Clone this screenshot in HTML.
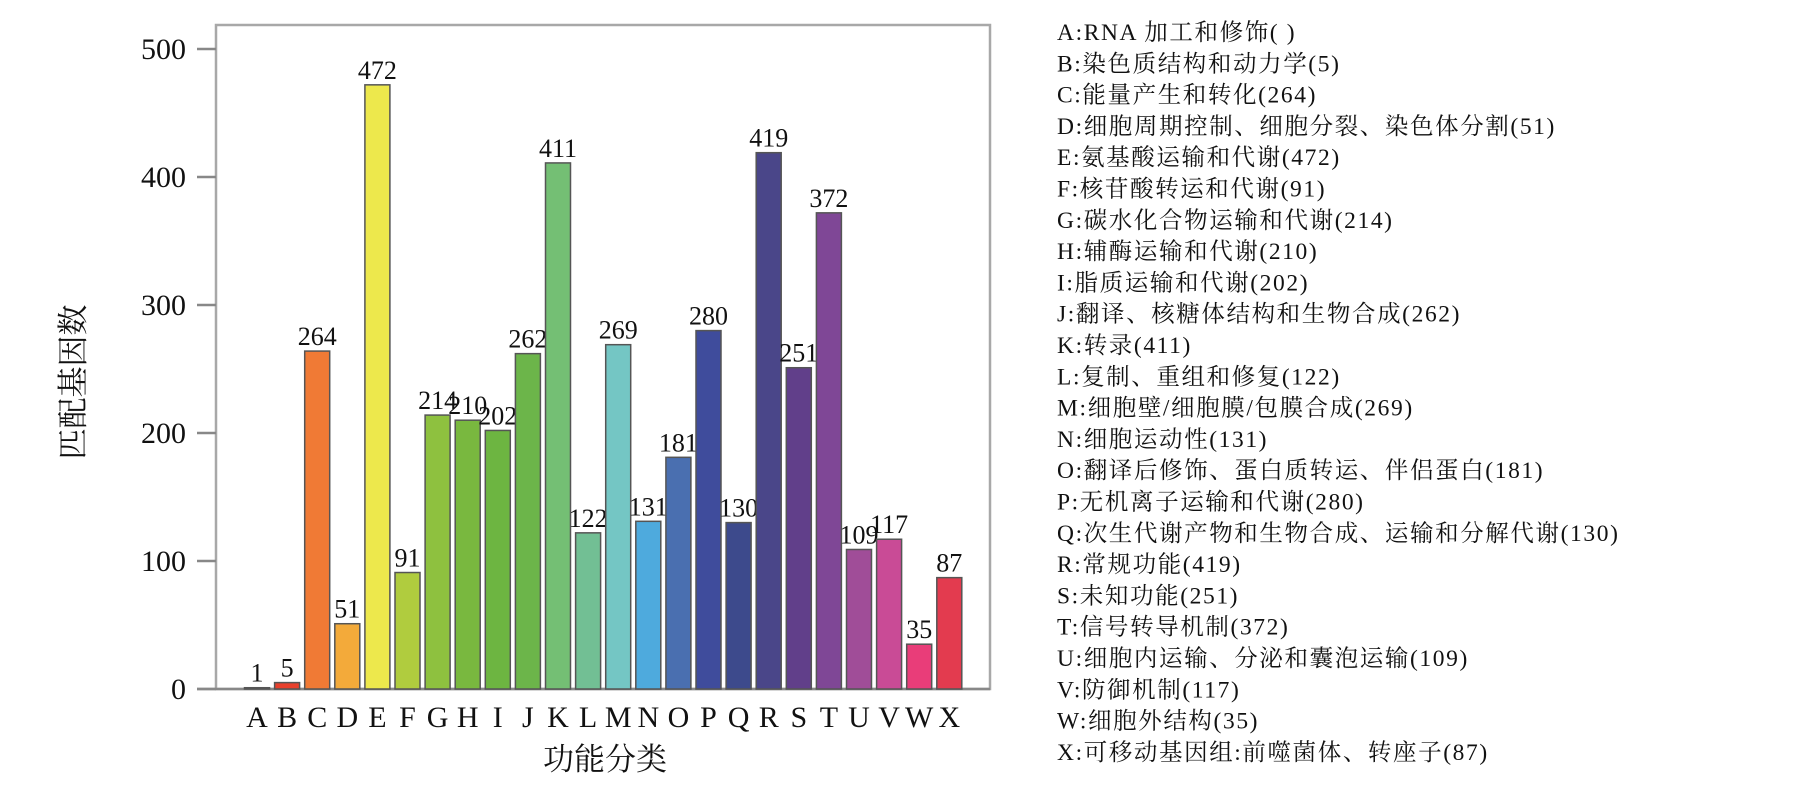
<!DOCTYPE html>
<html><head><meta charset="utf-8"><style>
body{margin:0;background:#fff;width:1812px;height:792px;overflow:hidden}
svg text{font-family:"Liberation Serif","Noto Serif CJK SC",serif;fill:#111}
</style></head><body>
<svg id="chart" width="1812" height="792" xmlns="http://www.w3.org/2000/svg">
<g id="plot"></g>
<g id="legend"></g>
</svg>
<script>
const categories=["A","B","C","D","E","F","G","H","I","J","K","L","M","N","O","P","Q","R","S","T","U","V","W","X"];
const values=[1,5,264,51,472,91,214,210,202,262,411,122,269,131,181,280,130,419,251,372,109,117,35,87];
const colors=["#999","#e8402c","#f07a35","#f3aa3a","#ede84c","#b0cc3e","#8ec13f","#79b83f","#6db541","#6cb54a","#74bf74","#72bf94","#74c6c4","#4eaadd","#4a6fb0","#3f4c9c","#3d4a8c","#4a4689","#613f8a","#7f4796","#a04d98","#c94b96","#e93d79","#e33b4f"];
const yTicks=[0,100,200,300,400,500];
const legendLabels=["A:RNA 加工和修饰( )","B:染色质结构和动力学(5)","C:能量产生和转化(264)","D:细胞周期控制、细胞分裂、染色体分割(51)","E:氨基酸运输和代谢(472)","F:核苷酸转运和代谢(91)","G:碳水化合物运输和代谢(214)","H:辅酶运输和代谢(210)","I:脂质运输和代谢(202)","J:翻译、核糖体结构和生物合成(262)","K:转录(411)","L:复制、重组和修复(122)","M:细胞壁/细胞膜/包膜合成(269)","N:细胞运动性(131)","O:翻译后修饰、蛋白质转运、伴侣蛋白(181)","P:无机离子运输和代谢(280)","Q:次生代谢产物和生物合成、运输和分解代谢(130)","R:常规功能(419)","S:未知功能(251)","T:信号转导机制(372)","U:细胞内运输、分泌和囊泡运输(109)","V:防御机制(117)","W:细胞外结构(35)","X:可移动基因组:前噬菌体、转座子(87)"];
const NS="http://www.w3.org/2000/svg";
const plot=document.getElementById('plot');
const legend=document.getElementById('legend');
const y0=689, pxPer=1.28;
function yScale(v){return y0-v*pxPer;}
function xScale(i){return 257+i*30.1;}
function mk(tag,attrs,parent){const e=document.createElementNS(NS,tag);for(const k in attrs)e.setAttribute(k,attrs[k]);parent.appendChild(e);return e;}
const frame=mk('rect',{x:216,y:25,width:774,height:664,fill:'none',stroke:'#a8a8a8','stroke-width':2.5},plot);


yTicks.forEach(t=>{
  const l=mk('line',{x1:197,x2:216,y1:yScale(t),y2:yScale(t),stroke:'#888','stroke-width':2.5},plot);
  
  
  const tx=mk('text',{x:186,y:yScale(t)+10,'text-anchor':'end','font-size':30},plot);
  tx.textContent=t;
  
  
});
const base=mk('line',{x1:197,x2:990,y1:y0,y2:y0,stroke:'#888','stroke-width':2.5},plot);


categories.forEach((c,i)=>{
  const cx=xScale(i),w=25,y=yScale(values[i]);
  const r=mk('rect',{x:cx-w/2,y:y,width:w,height:Math.max(y0-y,1),fill:colors[i],stroke:'#555','stroke-width':1.5},plot);
  
  
  const vl=mk('text',{x:cx,y:y-6,'text-anchor':'middle','font-size':26},plot);
  vl.textContent=values[i];
  
  
  const xl=mk('text',{x:cx,y:727,'text-anchor':'middle','font-size':30},plot);
  xl.textContent=c;
  
  
});
const xt=mk('text',{x:605,y:770,'text-anchor':'middle','font-size':31},plot);
xt.textContent='功能分类';


const yt=mk('text',{x:0,y:0,'text-anchor':'middle','font-size':31,transform:'translate(84,382) rotate(-90)'},plot);
yt.textContent='匹配基因数';


legendLabels.forEach((s,i)=>{
  const t=mk('text',{x:1057,y:40+i*31.3,'font-size':23.5,'letter-spacing':1.6},legend);
  t.textContent=s;
  
  
});
</script>
</body></html>
